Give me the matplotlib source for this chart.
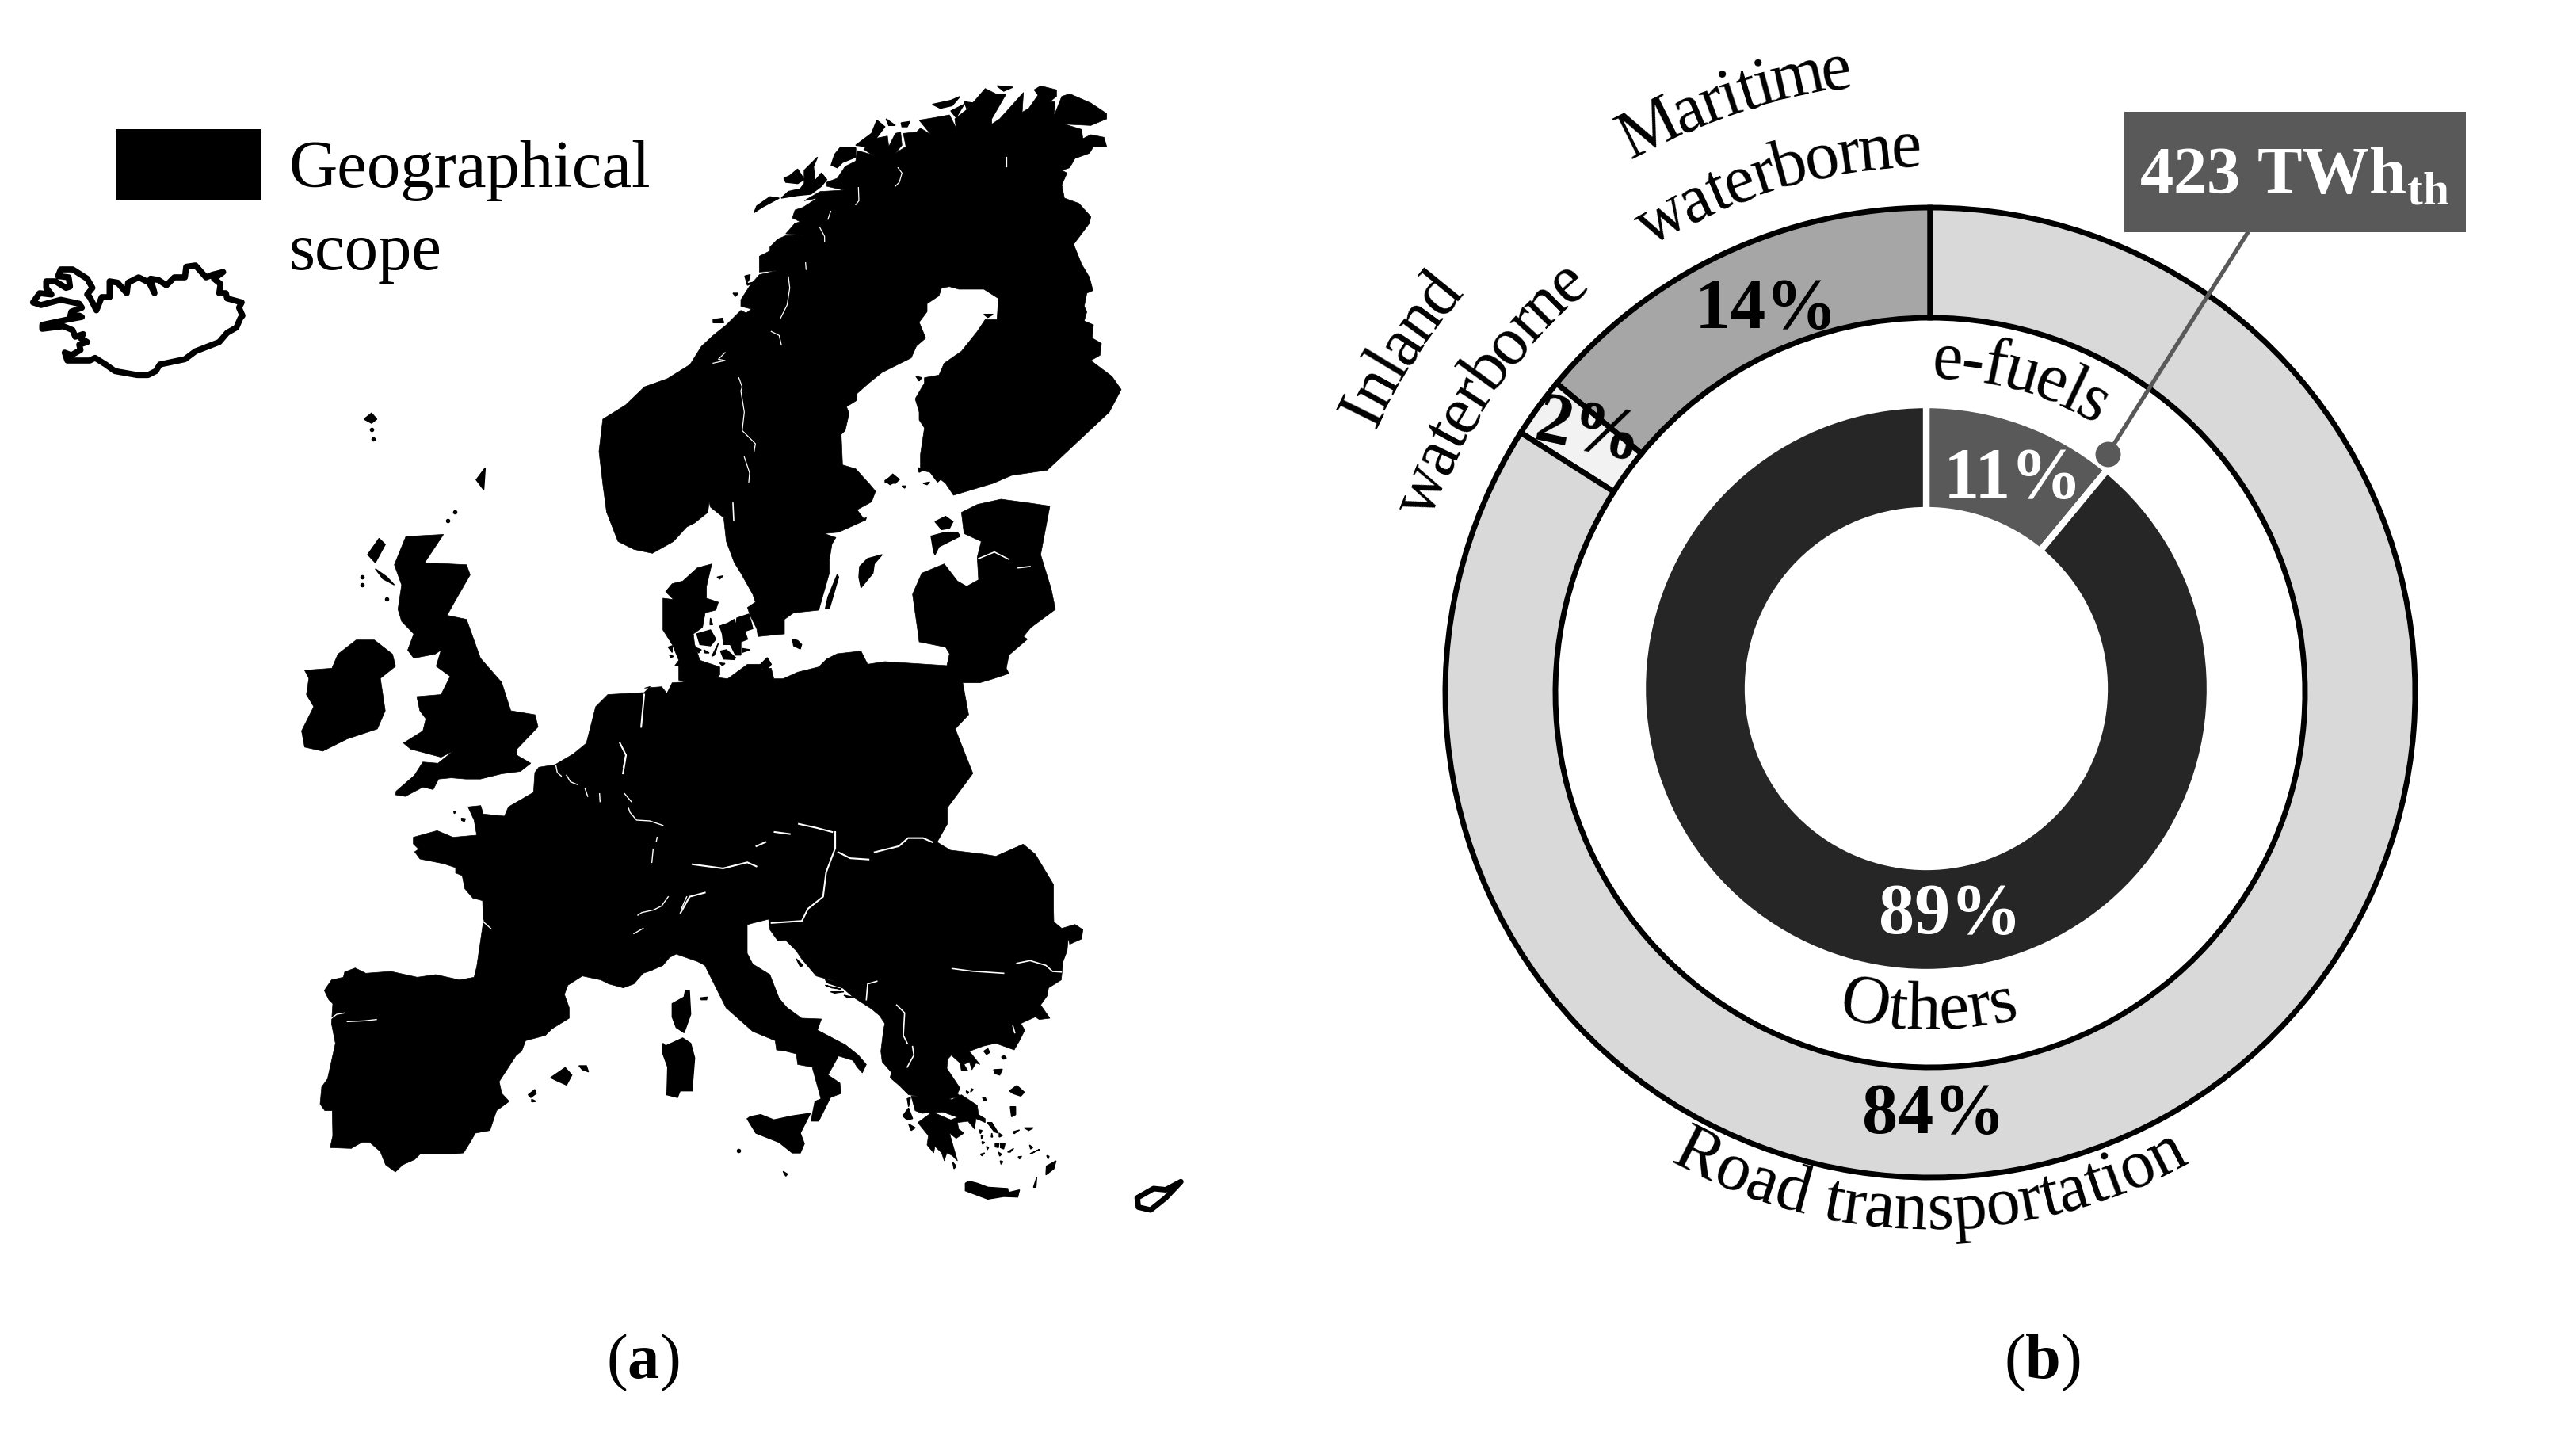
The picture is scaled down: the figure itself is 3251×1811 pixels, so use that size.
import numpy as np
import matplotlib
matplotlib.use("Agg")
import matplotlib.pyplot as plt
from matplotlib.font_manager import FontProperties
from matplotlib.textpath import text_to_path

plt.rcParams['font.family'] = ['Liberation Serif', 'DejaVu Serif']
plt.rcParams['mathtext.fontset'] = 'custom'
plt.rcParams['mathtext.rm'] = 'Liberation Serif'
plt.rcParams['mathtext.bf'] = 'Liberation Serif:bold'

W, H = 3251, 1811

# pie data
sector_labels = ["Maritime waterborne", "Inland waterborne", "Road transportation"]
sector_share = [14, 2, 84]
sector_colors = ["#a6a6a6", "#f2f2f2", "#d9d9d9"]
fuel_labels = ["e-fuels", "Others"]
fuel_share = [11, 89]
fuel_colors = ["#595959", "#262626"]

NORTH = (0, 80, 1.045, 1.96)
SOUTH = (350, 800, 1.3067, 1.96)
ARCTIC = (900, 90, 3, 3)
BALTIC = (780, 600, 3, 3)
BALKAN = (950, 1150, 3, 3)
WEST = (380, 950, 3, 3)
ICE = (20, 320, 3, 3)

# Scandinavia, clockwise from the Trondheim coast
scand_arctic = [(0, 1000), (50, 960), (105, 905), (125, 915), (145, 900), (105, 890), (105, 865), (140, 810), (175, 770),
                (240, 755), (175, 760), (175, 700), (215, 680), (215, 665), (245, 635), (275, 622), (340, 620), (275, 615),
                (310, 575), (330, 570), (300, 555), (310, 525), (340, 515), (395, 480), (345, 490), (405, 455), (495, 450),
                (430, 435), (430, 420), (470, 405), (500, 360), (540, 340), (545, 300), (600, 315), (570, 295), (610, 255),
                (660, 245), (665, 285), (690, 235), (710, 230), (715, 280), (690, 310), (730, 285), (720, 235), (770, 230),
                (785, 215), (825, 240), (780, 185), (840, 175), (895, 165), (920, 215), (915, 180), (960, 145), (1000, 100),
                (1030, 65), (1070, 85), (1110, 85), (1055, 180), (1055, 200), (1085, 180), (1175, 80), (1170, 155),
                (1195, 140), (1230, 90), (1215, 70), (1240, 55), (1300, 70), (1300, 95), (1275, 115), (1295, 115),
                (1290, 170), (1320, 95), (1350, 85), (1430, 120), (1490, 160), (1490, 180), (1430, 205), (1330, 200),
                (1395, 220), (1400, 255), (1430, 240), (1480, 250), (1490, 285), (1440, 285), (1425, 310), (1370, 330),
                (1350, 365), (1320, 375), (1340, 385), (1320, 430), (1330, 480), (1385, 500), (1430, 550), (1425, 575),
                (1365, 655), (1395, 730), (1425, 780), (1438, 830), (1415, 840), (1405, 890), (1415, 910), (1405, 945),
                (1440, 960), (1435, 1010), (1470, 1030), (1465, 1075), (1430, 1095), (1510, 1155), (1545, 1205), (1500, 1290),
                (1265, 1510), (1130, 1530), (1060, 1560), (960, 1590), (910, 1605), (880, 1560), (830, 1520), (785, 1510),
                (785, 1450), (800, 1350), (780, 1320), (780, 1290), (765, 1240), (800, 1180), (800, 1160), (855, 1150),
                (875, 1105), (940, 1060), (1000, 985), (1030, 940), (1075, 940), (1080, 860), (1025, 825), (930, 825),
                (895, 815), (865, 820), (855, 850), (810, 880), (810, 910), (780, 950), (805, 1010), (770, 1040), (750, 1085),
                (680, 1120), (640, 1140), (590, 1180), (545, 1220), (545, 1245), (505, 1270), (515, 1295), (500, 1360),
                (485, 1375), (490, 1490), (540, 1505), (585, 1555)]
scand_baltic = [(945, 24), (975, 60), (960, 100), (905, 130), (935, 170), (835, 215), (780, 220), (825, 235), (810, 260),
                (800, 320), (800, 370), (760, 510), (665, 520), (630, 545), (630, 600), (530, 610), (525, 580), (500, 530),
                (490, 500), (520, 480), (510, 450), (465, 370), (440, 330), (410, 250), (400, 160), (350, 120), (345, 100),
                (340, 140), (290, 180), (260, 195), (210, 250), (130, 295), (60, 280), (0, 250)]
scand_north = [(800, 1110), (795, 1040), (790, 960), (795, 880), (825, 845), (850, 800), (880, 780), (910, 745), (925, 700)]

arctic_islands = [
    [(155, 535), (165, 510), (215, 475), (250, 480), (185, 515)],
    [(258, 480), (285, 455), (330, 445), (345, 425), (345, 375), (395, 325), (380, 360), (385, 415), (410, 385), (430, 410),
     (410, 435), (370, 465), (320, 470)],
    [(268, 405), (290, 395), (320, 370), (345, 410), (320, 425), (275, 420)],
    [(447, 355), (460, 315), (480, 290), (540, 290), (540, 325), (490, 345), (470, 365)],
    [(540, 280), (600, 235), (620, 185), (650, 210), (620, 250), (580, 285)],
    [(655, 180), (690, 205), (665, 205)],
    [(712, 195), (745, 190), (735, 210), (715, 210)],
    [(830, 125), (900, 110), (935, 95), (905, 130), (860, 140)],
    [(900, 150), (950, 125), (920, 175)],
    [(950, 115), (985, 120), (960, 140)],
    [(1075, 55), (1135, 60), (1100, 75)],
    [(120, 775), (140, 770), (135, 790), (125, 805), (165, 795), (130, 810)],
    [(75, 840), (95, 840), (85, 852)],
    [(0, 940), (35, 935), (40, 952), (0, 952)],
    [(1025, 920), (1060, 920), (1040, 932)],
    [(768, 1155), (790, 1160), (780, 1172)],
    [(650, 1555), (680, 1525), (705, 1545), (690, 1560)],
    [(775, 1500), (795, 1510), (780, 1518)],
    [(820, 1515), (870, 1535), (850, 1555)],
]
baltic_islands = [
    [(915, 345), (945, 315), (1000, 300), (970, 335), (965, 370), (920, 425), (912, 385)],
    [(785, 505), (795, 460), (830, 375), (835, 385), (800, 505)],
    [(1185, 230), (1240, 215), (1285, 215), (1295, 230), (1215, 270), (1200, 300), (1195, 290), (1190, 260)],
    [(1200, 175), (1240, 155), (1268, 175), (1255, 200), (1225, 205)],
    [(660, 620), (680, 625), (695, 640), (690, 657), (665, 645)],
    [(375, 385), (398, 380), (385, 392)],
    [(298, 600), (350, 585), (370, 620), (350, 645), (310, 640)],
    [(385, 570), (415, 560), (440, 545), (445, 570), (450, 540), (495, 525), (505, 560), (510, 580), (480, 590), (490, 620),
     (465, 630), (465, 680), (445, 680), (425, 640), (400, 640), (395, 600)],
    [(388, 665), (410, 660), (445, 690), (440, 697), (400, 695)],
    [(350, 540), (358, 565), (348, 565)],
    [(325, 660), (345, 672), (330, 672)],
    [(355, 685), (380, 635), (365, 680)],
    [(290, 650), (315, 660), (305, 672)],
    [(470, 655), (500, 660), (470, 670)],
    [(385, 710), (405, 712), (395, 720)],
    [(540, 715), (565, 690), (580, 715), (560, 740), (545, 730)],
    [(190, 650), (205, 645), (205, 670)],
    [(195, 680), (210, 685), (200, 690)],
    [(1010, 20), (1040, 0), (1065, 15), (1030, 35)],
    [(1075, 40), (1090, 40), (1085, 48)],
    [(1155, 30), (1180, 25), (1170, 35)],
    [(930, 165), (940, 160), (935, 172)],
]
north_islands = [
    [(480, 880), (490, 865), (497, 880), (490, 890)],
    [(628, 1030), (640, 1000), (638, 1055)],
    [(485, 1215), (500, 1175), (508, 1190), (495, 1235)],
    [(495, 1250), (510, 1270), (520, 1290), (505, 1275)],
]
north_islets_x = [490, 492, 590, 600, 478, 478, 510]
north_islets_y = [905, 930, 1130, 1110, 1270, 1290, 1325]

# mainland, clockwise from the Dutch coast
main_west = [(525, 180), (545, 150), (605, 145), (615, 130)]
main_baltic = [(100, 805), (165, 800), (185, 825), (205, 785), (255, 782), (230, 775), (230, 720), (215, 720), (230, 700),
               (205, 640), (170, 585), (170, 465), (210, 470), (180, 440), (205, 410), (245, 400), (300, 350), (355, 335),
               (335, 420), (335, 465), (380, 480), (370, 510), (330, 520), (320, 575), (285, 600), (290, 640), (310, 700),
               (385, 725), (385, 755), (375, 765), (415, 770), (490, 715), (540, 715), (545, 735), (580, 730), (590, 770),
               (625, 770), (680, 745), (760, 725), (790, 695), (830, 675), (920, 665), (945, 715), (1010, 705), (1245, 720),
               (1255, 675), (1240, 650), (1140, 630), (1135, 590), (1115, 450), (1150, 370), (1235, 335), (1285, 400),
               (1320, 420), (1365, 395), (1360, 310), (1375, 250), (1310, 220), (1300, 140), (1360, 110), (1450, 90),
               (1560, 105), (1635, 116), (1600, 300), (1640, 430), (1656, 507), (1563, 576), (1535, 610), (1550, 620),
               (1480, 680), (1470, 730), (1480, 750), (1420, 770), (1370, 785), (1305, 785)]
main_east = [(1140, 200), (1118, 235), (1135, 300), (1147, 345), (1105, 430), (1105, 470), (1088, 515), (1110, 535),
             (1165, 545), (1185, 550), (1230, 520), (1250, 545), (1280, 620), (1280, 680)]
main_balkan = [(1140, 40), (1170, 65), (1220, 50), (1250, 70), (1245, 105), (1200, 125), (1195, 100), (1190, 150), (1175, 190),
               (1168, 260), (1120, 290), (1115, 320), (1090, 355), (1125, 405), (1085, 410), (1070, 400), (1015, 425),
               (1030, 450), (1010, 490), (990, 525), (920, 500), (875, 510), (820, 530), (860, 580), (845, 575), (830, 600),
               (820, 570), (800, 580), (815, 605), (790, 605), (785, 575), (752, 545), (738, 560), (735, 595), (785, 670),
               (775, 690), (785, 700), (745, 710), (800, 745), (750, 715), (790, 695), (850, 735), (855, 770), (880, 785),
               (880, 800), (845, 785), (840, 825), (815, 795), (775, 800), (780, 825), (800, 840), (770, 860), (745, 840),
               (775, 945), (755, 925), (735, 915), (725, 945), (715, 915), (690, 890), (685, 915), (660, 885), (665, 850),
               (625, 800), (680, 760), (750, 790), (775, 780), (720, 760), (640, 765), (615, 755), (600, 700), (625, 700),
               (590, 695), (555, 660), (520, 630), (525, 610), (490, 570), (485, 530), (495, 450), (500, 425), (480, 395),
               (450, 370), (380, 325), (340, 290), (310, 265), (240, 245), (185, 180), (165, 150), (125, 110), (95, 112),
               (65, 70), (60, 30), (0, 45), (-21, 51), (-21, 159), (0, 200), (65, 240), (100, 330), (130, 365), (185, 405),
               (260, 408), (245, 450), (350, 505), (400, 545), (430, 580), (415, 612), (395, 590), (380, 565), (325, 548),
               (285, 620), (330, 650), (335, 690), (295, 705), (250, 795), (220, 795), (235, 720), (258, 710), (225, 590),
               (170, 580), (165, 540), (125, 530), (90, 525), (85, 490), (0, 455)]
main_italy_west = [(740, 925), (705, 820)]
main_iberia = [(1527, 804), (1500, 790), (1420, 762), (1395, 775), (1370, 805), (1325, 825), (1295, 835), (1260, 875),
               (1220, 890), (1165, 875), (1135, 860), (1065, 845), (1010, 880), (997, 915), (1015, 965), (1015, 1005),
               (950, 1045), (925, 1070), (850, 1090), (835, 1130), (815, 1145), (750, 1245), (760, 1290), (788, 1320),
               (740, 1355), (715, 1430), (660, 1440), (640, 1475), (615, 1515), (570, 1520), (450, 1520), (430, 1540),
               (385, 1560), (357, 1587), (320, 1560), (300, 1510), (260, 1475), (230, 1475), (190, 1498), (110, 1495),
               (120, 1450), (118, 1355), (90, 1355), (72, 1330), (78, 1265), (100, 1235), (130, 1100), (115, 1025), (120, 950),
               (105, 935), (88, 900), (115, 860), (160, 850), (165, 830), (205, 815), (245, 835), (340, 828), (440, 850),
               (510, 840), (600, 860), (655, 850), (665, 810), (690, 640), (687, 560), (650, 550), (620, 515), (610, 465),
               (585, 455), (585, 435), (540, 420), (450, 402), (430, 375), (445, 365), (425, 345), (425, 320), (515, 295),
               (575, 320), (665, 312), (655, 255), (632, 205), (680, 200), (690, 232), (770, 240), (785, 205), (880, 150),
               (885, 75), (900, 55), (962, 45), (1030, 5), (1080, -36)]

ireland = [(45, 90), (90, 85), (100, 50), (130, 15), (160, 15), (190, 50), (195, 80), (170, 110), (178, 190),
           (165, 235), (115, 260), (75, 290), (45, 280), (40, 240), (60, 180), (48, 150), (52, 110)]
britain = [(212, -241), (274, -246), (243, -176), (312, -171), (318, -146), (293, -81), (280, -46), (312, -36),
           (335, 60), (370, 120), (385, 190), (425, 200), (430, 230), (395, 285), (395, 300), (418, 320), (401, 340),
           (370, 346), (335, 359), (311, 359), (287, 356), (266, 359), (257, 385), (240, 379), (211, 402), (195, 398),
           (196, 389), (226, 350), (240, 317), (265, 320), (290, 290),
           (270, 305), (220, 285), (208, 270), (240, 240), (245, 210), (235, 190), (230, 155), (270, 150), (285, 105),
           (262, 80), (270, 40), (260, 50), (225, 60), (215, 40), (225, 0), (205, -31), (199, -61), (205, -121),
           (193, -171)]
west_islands = [
    [(1455, 900), (1470, 900), (1475, 990), (1450, 1060), (1420, 1040), (1405, 1000), (1405, 950), (1450, 925)],
    [(1370, 1100), (1380, 1110), (1445, 1080), (1475, 1100), (1490, 1155), (1480, 1280), (1435, 1280), (1425, 1305),
     (1385, 1295), (1388, 1190), (1370, 1140)],
    [(945, 1230), (1000, 1192), (1025, 1220), (1005, 1258), (965, 1240)],
    [(1052, 1185), (1080, 1185), (1088, 1208), (1065, 1200)],
    [(860, 1295), (885, 1275), (890, 1290), (870, 1305)],
    [(873, 1312), (890, 1320), (873, 1322)],
    [(1512, 928), (1538, 925), (1535, 935), (1515, 935)],
    [(578, 222), (587, 224), (580, 230)],
    [(607, 248), (622, 250), (618, 260), (608, 256)],
]
south_islets_x = [760]
south_islets_y = [1277]

balkan_islands = [
    [(-21, 786), (-10, 778), (30, 770), (80, 790), (150, 775), (218, 765), (180, 840), (195, 880), (180, 915), (150, 915),
     (100, 875), (12, 840)],
    [(275, 258), (320, 270), (340, 290), (280, 270)], [(275, 280), (335, 295), (300, 290)],
    [(295, 305), (345, 305), (310, 310)], [(345, 318), (378, 325), (360, 328)], [(165, 180), (190, 205), (180, 210)],
    [(875, 530), (890, 520), (897, 535), (885, 542)], [(942, 552), (952, 546), (960, 556), (950, 560)],
    [(912, 600), (945, 598), (935, 620), (918, 615)], [(972, 680), (1000, 660), (1028, 685), (1015, 700), (985, 690)],
    [(975, 740), (995, 740), (995, 770), (980, 778)], [(870, 705), (880, 705), (885, 718), (875, 718)],
    [(808, 680), (818, 685), (812, 692)], [(828, 672), (835, 675), (825, 685)],
    [(888, 800), (905, 800), (930, 840), (915, 835)], [(985, 835), (1010, 828), (990, 842)],
    [(1028, 820), (1062, 820), (1045, 830)], [(857, 828), (868, 830), (862, 842)], [(865, 848), (872, 850), (866, 862)],
    [(868, 872), (878, 875), (870, 882)], [(885, 890), (893, 895), (888, 903)],
    [(918, 880), (932, 878), (930, 895), (918, 892)], [(938, 878), (955, 880), (950, 900), (938, 895)],
    [(965, 912), (988, 898), (975, 912)], [(862, 920), (878, 915), (868, 926)], [(930, 912), (942, 920), (935, 927)],
    [(937, 945), (947, 948), (940, 958)], [(1005, 930), (1018, 928), (1010, 938)], [(1048, 885), (1060, 895), (1052, 900)],
    [(1050, 918), (1085, 902), (1060, 915)], [(905, 840), (908, 855), (903, 855)], [(933, 840), (945, 850), (933, 855)],
    [(1110, 998), (1112, 965), (1148, 945), (1140, 975)], [(1063, 1045), (1075, 1008), (1072, 1045)],
    [(1113, 925), (1122, 928), (1118, 938)],
    [(805, 1030), (818, 1022), (850, 1030), (890, 1045), (965, 1050), (968, 1065), (1010, 1055), (1003, 1082), (950, 1080),
     (890, 1090), (805, 1058)],
    [(757, 950), (770, 965), (762, 975)], [(568, 775), (590, 745), (605, 785), (585, 790)],
    [(585, 710), (597, 705), (590, 740)], [(590, 805), (615, 820), (600, 830)], [(115, 985), (132, 995), (125, 1003)],
]

iceland = [(65, 185), (95, 195), (170, 175), (240, 190), (250, 205), (210, 220), (205, 240), (240, 235), (250, 240),
           (195, 250), (100, 270), (100, 285), (180, 275), (215, 290), (225, 315), (255, 305), (245, 320), (270, 335),
           (240, 345), (245, 365), (210, 385), (185, 375), (195, 405), (280, 405), (300, 395), (340, 420), (375, 445),
           (460, 460), (500, 460), (530, 445), (545, 420), (640, 400), (680, 370), (770, 335), (800, 300), (835, 280),
           (850, 245), (858, 235), (845, 205), (855, 185), (800, 170), (795, 150), (770, 150), (775, 115), (750, 95),
           (785, 70), (745, 80), (720, 90), (680, 45), (645, 50), (640, 90), (600, 90), (570, 120), (540, 100), (510, 95),
           (525, 150), (505, 110), (465, 90), (425, 110), (420, 150), (385, 110), (355, 105), (355, 165), (325, 165),
           (305, 215), (280, 165), (270, 155), (290, 130), (270, 95), (215, 60), (170, 60), (160, 85), (200, 90),
           (205, 125), (190, 130), (150, 105), (115, 105), (115, 130), (135, 155), (90, 150)]
cyprus = [(1418, 1395), (1445, 1372), (1465, 1375), (1490, 1355), (1465, 1395), (1440, 1425), (1420, 1418)]

arctic_borders = [
    [(285, 778), (290, 820), (280, 885), (255, 935)], [(220, 985), (250, 1000), (258, 1035)],
    [(97, 1160), (110, 1195), (105, 1210), (118, 1290), (110, 1360), (160, 1410), (155, 1440)],
    [(118, 1460), (138, 1520), (135, 1555)], [(550, 440), (552, 490), (540, 505)],
    [(700, 365), (715, 385), (705, 420), (690, 435)], [(403, 590), (422, 625), (422, 645)], [(445, 530), (435, 560)],
    [(350, 725), (352, 750)], [(1110, 325), (1110, 360)], [(0, 1105), (45, 1095), (20, 1090), (45, 1065)],
]
baltic_borders = [[(1365, 315), (1425, 290), (1480, 318)], [(1515, 350), (1560, 345)], [(435, 105), (438, 170)]]
balkan_borders = [
    [(755, 217), (830, 227), (950, 235)], [(1000, 197), (1050, 187), (1110, 205), (1135, 228), (1168, 230)],
    [(545, 355), (575, 385), (570, 470), (585, 500)], [(605, 512), (610, 545), (585, 590)],
    [(430, 335), (435, 275), (470, 265)], [(985, 435), (992, 460)],
]
west_borders = [
    [(965, 50), (970, 75), (985, 88)], [(1005, 85), (1020, 110), (1045, 120)], [(1075, 135), (1085, 165)],
    [(1130, 155), (1132, 185)], [(1225, 155), (1250, 185)], [(1240, 210), (1245, 225), (1270, 255), (1320, 258), (1370, 275)],
    [(1220, 55), (1230, 5)], [(1348, 320), (1345, 335)], [(1333, 365), (1328, 415)],
    [(1275, 615), (1290, 605), (1335, 595), (1365, 580), (1390, 545)], [(1440, 590), (1460, 545)],
    [(680, 590), (690, 640), (718, 665)], [(115, 1005), (135, 990), (165, 985)], [(175, 1018), (240, 1015), (285, 1010)],
    [(1260, 685), (1295, 665)],
]
south_borders = [
    [(925, 540), (945, 555), (975, 558)],
    [(985, 540), (1025, 525), (1040, 505), (1065, 505), (1080, 515)],
    [(860, 470), (890, 480), (915, 490)],
    [(820, 490), (845, 495)],
    [(790, 525), (805, 515)],
    [(685, 570), (710, 575), (735, 580), (775, 565), (790, 575)],
    [(665, 690), (680, 650), (705, 640)],
    [(920, 490), (920, 530), (905, 590), (900, 650), (875, 680), (865, 710), (815, 715)],
    [(565, 270), (575, 300), (570, 345)],
    [(605, 150), (600, 230)],
]

# curved labels: text, middle angle (deg, clockwise from top), baseline radius, span (deg)
top_labels = [("Maritime", -18.2, 771, 21.8), ("waterborne", -16.5, 664, 31.0),
              ("Inland", -57.0, 776, 15.2), ("waterborne", -55.4, 668, 30.8),
              ("e-fuels", 16.0, 397, 31.2)]
bottom_labels = [("Road transportation", 0.0, 677, 58.0), ("Others", -0.3, 425, 31.5)]


def to_px(points, crop):
    x0, y0, sx, sy = crop
    pts = np.array(points, dtype=float)
    return x0 + pts[:, 0] / sx, y0 + pts[:, 1] / sy


def join_px(*parts):
    xs, ys = zip(*[to_px(p, c) for p, c in parts])
    return np.concatenate(xs), np.concatenate(ys)


def advance(ch, prop):
    # width of one character in pixels, spaces included
    wide = text_to_path.get_text_width_height_descent("x" + ch + "x", prop, False)[0]
    base = text_to_path.get_text_width_height_descent("xx", prop, False)[0]
    return (wide - base) * 100 / 72


def arc_text(ax, text, mid, radius, span, cx, cy, top=True, size=62):
    prop = FontProperties(family='Liberation Serif', size=size)
    widths = np.array([advance(c, prop) for c in text])
    starts = np.cumsum(np.r_[0, widths[:-1]]) + widths / 2
    angles = mid + (starts / widths.sum() - 0.5) * span
    for ch, ang in zip(text, angles):
        t = np.radians(ang)
        if top:
            x, y, rot = cx + radius * np.sin(t), cy - radius * np.cos(t), -ang
        else:
            # reads left to right along the bottom of the ring
            x, y, rot = cx + radius * np.sin(t), cy + radius * np.cos(t), ang
        ax.text(x, y, ch, fontsize=size, rotation=rot, rotation_mode='anchor',
                ha='center', va='baseline', color='black', zorder=6)


fig = plt.figure(figsize=(W / 100, H / 100), dpi=100, facecolor='white')

# rings, the inner one sits a few pixels up and left of the outer one
cx, cy = 2436, 874
box = 660
ax_pie = fig.add_axes([(cx - box) / W, 1 - (cy + box) / H, 2 * box / W, 2 * box / H])
ax_pie.pie(sector_share, radius=612, colors=sector_colors, startangle=90, counterclock=True,
           wedgeprops=dict(width=139, edgecolor='black', linewidth=5))
ax_pie.pie(fuel_share, radius=358, center=(-5, 5), colors=fuel_colors, startangle=90, counterclock=False,
           wedgeprops=dict(width=133, edgecolor='white', linewidth=6))
ax_pie.set_xlim(-box, box)
ax_pie.set_ylim(-box, box)
ax_pie.axis('off')

ax = fig.add_axes([0, 0, 1, 1], facecolor='none')
ax.set_xlim(0, W)
ax.set_ylim(H, 0)
ax.axis('off')

# map
xs, ys = join_px((scand_arctic, ARCTIC), (scand_baltic, BALTIC), (scand_north, NORTH))
ax.fill(xs, ys, color='black', linewidth=0.5)
xs, ys = join_px((main_west, SOUTH), (main_baltic, BALTIC), (main_east, SOUTH), (main_balkan, BALKAN),
                 (main_italy_west, SOUTH), (main_iberia, WEST))
ax.fill(xs, ys, color='black', linewidth=0.5)
for outline in [ireland, britain]:
    xs, ys = to_px(outline, SOUTH)
    ax.fill(xs, ys, color='black', linewidth=0.5)
for group, crop in [(arctic_islands, ARCTIC), (baltic_islands, BALTIC), (north_islands, NORTH),
                    (west_islands, WEST), (balkan_islands, BALKAN)]:
    for isl in group:
        xs, ys = to_px(isl, crop)
        ax.fill(xs, ys, color='black', linewidth=1)
xs, ys = to_px(np.c_[north_islets_x, north_islets_y], NORTH)
ax.scatter(xs, ys, s=16, color='black', linewidths=0)
xs, ys = to_px(np.c_[south_islets_x, south_islets_y], SOUTH)
ax.scatter(xs, ys, s=16, color='black', linewidths=0)
for group, crop, width in [(arctic_borders, ARCTIC, 0.9), (baltic_borders, BALTIC, 1.2), (balkan_borders, BALKAN, 1.2),
                           (west_borders, WEST, 1.0), (south_borders, SOUTH, 1.5)]:
    for line in group:
        xs, ys = to_px(line, crop)
        ax.plot(xs, ys, color='white', lw=width)
xs, ys = to_px(iceland, ICE)
ax.fill(xs, ys, facecolor='white', edgecolor='black', linewidth=5.5, joinstyle='round')
xs, ys = to_px(cyprus, SOUTH)
ax.fill(xs, ys, facecolor='white', edgecolor='black', linewidth=5, joinstyle='round')

# legend
ax.add_patch(plt.Rectangle((146, 163), 183, 89, facecolor='black', edgecolor='none'))
ax.text(365, 236, "Geographical", fontsize=61, va='baseline', ha='left')
ax.text(365, 340, "scope", fontsize=61, va='baseline', ha='left')

# ring labels
for text, mid, radius, span in top_labels:
    arc_text(ax, text, mid, radius, span, cx, cy, top=True)
for text, mid, radius, span in bottom_labels:
    arc_text(ax, text, mid, radius, span, cx, cy, top=False)

ax.text(2229, 392, f"{sector_share[0]}%", fontsize=65, fontweight='bold', ha='center', va='center', zorder=6)
ax.text(2004, 547, f"{sector_share[1]}%", fontsize=65, fontweight='bold', ha='center', va='center',
        rotation=-12, zorder=6)
ax.text(2440, 1408, f"{sector_share[2]}%", fontsize=65, fontweight='bold', ha='center', va='center', zorder=6)
ax.text(2540, 606, f"{fuel_share[0]}%", fontsize=65, fontweight='bold', color='white', ha='center', va='center',
        zorder=6)
ax.text(2461, 1156, f"{fuel_share[1]}%", fontsize=65, fontweight='bold', color='white', ha='center', va='center',
        zorder=6)

# callout
ax.plot([2660, 2837], [573, 293], color='#595959', lw=3.8, zorder=5)
ax.plot([2660], [573], 'o', color='#595959', markersize=23, markeredgewidth=0, zorder=5)
ax.add_patch(plt.Rectangle((2681, 141), 431, 152, facecolor='#595959', edgecolor='none', zorder=5))
ax.text(2896, 224, r"423 TWh$_{\mathbf{th}}$", fontsize=61, fontweight='bold', color='white',
        ha='center', va='center', zorder=6)

# panel letters
ax.text(811, 1720, r"($\mathbf{a}$)", fontsize=58, ha='center', va='center')
ax.text(2577, 1720, r"($\mathbf{b}$)", fontsize=58, ha='center', va='center')

fig.savefig("out.png", dpi=100, facecolor='white')
